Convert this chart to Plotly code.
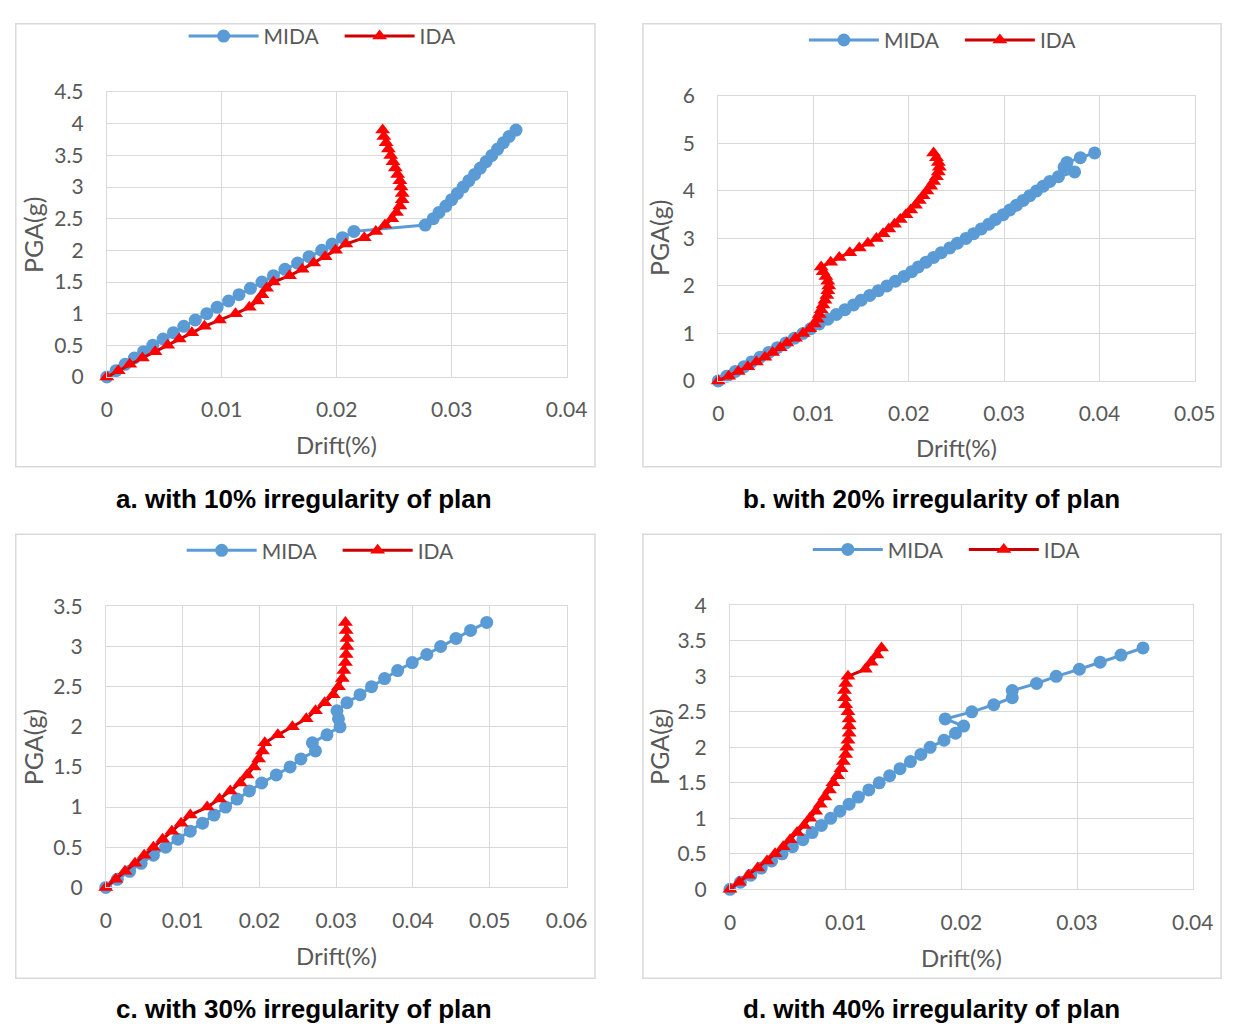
import plotly.graph_objects as go

W, H = 1247, 1035

# ---------------- data (PGA in g, drift) ----------------
pga_a_mida = [0.0, 0.1, 0.2, 0.3, 0.4, 0.5, 0.6, 0.7, 0.8, 0.9, 1.0, 1.1, 1.2, 1.3, 1.4, 1.5, 1.6, 1.7, 1.8, 1.9,
              2.0, 2.1, 2.2, 2.3, 2.4, 2.5, 2.6, 2.7, 2.8, 2.9, 3.0, 3.1, 3.2, 3.3, 3.4, 3.5, 3.6, 3.7, 3.8, 3.9]
drift_a_mida = [0.0, 0.0008, 0.0016, 0.0024, 0.0032, 0.0040, 0.0049, 0.0058, 0.0067, 0.0077, 0.0087, 0.0096,
                0.0106, 0.0115, 0.0125, 0.0135, 0.0145, 0.0155, 0.0166, 0.0176, 0.0187, 0.0196, 0.0205, 0.0215,
                0.0277, 0.0284, 0.0289, 0.0295, 0.0300, 0.0305, 0.0310, 0.0315, 0.0320, 0.0325, 0.0330, 0.0335,
                0.0340, 0.0345, 0.0350, 0.0356]
pga_a_ida = [0.0, 0.1, 0.2, 0.3, 0.4, 0.5, 0.6, 0.7, 0.8, 0.9, 1.0, 1.1, 1.2, 1.3, 1.4, 1.5, 1.6, 1.7, 1.8, 1.9,
             2.0, 2.1, 2.2, 2.3, 2.4, 2.5, 2.6, 2.7, 2.8, 2.9, 3.0, 3.1, 3.2, 3.3, 3.4, 3.5, 3.6, 3.7, 3.8, 3.9]
drift_a_ida = [0.0, 0.0010, 0.0020, 0.0031, 0.0042, 0.0053, 0.0063, 0.0074, 0.0085, 0.0098, 0.0112, 0.0124,
               0.0131, 0.0135, 0.0139, 0.0145, 0.0159, 0.0170, 0.0180, 0.0190, 0.0199, 0.0208, 0.0224, 0.0234,
               0.0242, 0.0248, 0.0252, 0.0255, 0.0257, 0.0257, 0.0256, 0.0255, 0.0253, 0.0251, 0.0249, 0.0247,
               0.0245, 0.0243, 0.0241, 0.0240]

pga_b_mida = [0.0, 0.1, 0.2, 0.3, 0.4, 0.5, 0.6, 0.7, 0.8, 0.9, 1.0, 1.1, 1.2, 1.3, 1.4, 1.5, 1.6, 1.7, 1.8, 1.9,
              2.0, 2.1, 2.2, 2.3, 2.4, 2.5, 2.6, 2.7, 2.8, 2.9, 3.0, 3.1, 3.2, 3.3, 3.4, 3.5, 3.6, 3.7, 3.8, 3.9,
              4.0, 4.1, 4.2, 4.3, 4.4, 4.5, 4.6, 4.7, 4.8]
drift_b_mida = [0.0, 0.0009, 0.0018, 0.0027, 0.0035, 0.0044, 0.0053, 0.0062, 0.0071, 0.0080, 0.0089, 0.0097,
                0.0106, 0.0115, 0.0124, 0.0133, 0.0142, 0.0150, 0.0159, 0.0168, 0.0177, 0.0186, 0.0195, 0.0203,
                0.0210, 0.0218, 0.0226, 0.0234, 0.0243, 0.0251, 0.0260, 0.0268, 0.0276, 0.0284, 0.0291, 0.0299,
                0.0306, 0.0313, 0.0320, 0.0327, 0.0334, 0.0341, 0.0348, 0.0357, 0.0374, 0.0363, 0.0366, 0.0380,
                0.0395]
pga_b_ida = [0.0, 0.1, 0.2, 0.3, 0.4, 0.5, 0.6, 0.7, 0.8, 0.9, 1.0, 1.1, 1.2, 1.3, 1.4, 1.5, 1.6, 1.7, 1.8, 1.9,
             2.0, 2.1, 2.2, 2.3, 2.4, 2.5, 2.6, 2.7, 2.8, 2.9, 3.0, 3.1, 3.2, 3.3, 3.4, 3.5, 3.6, 3.7, 3.8, 3.9,
             4.0, 4.1, 4.2, 4.3, 4.4, 4.5, 4.6, 4.7, 4.8]
drift_b_ida = [0.0, 0.0011, 0.0021, 0.0031, 0.0040, 0.0049, 0.0057, 0.0065, 0.0072, 0.0081, 0.0089, 0.0096,
               0.0101, 0.0104, 0.0106, 0.0108, 0.0110, 0.0112, 0.0114, 0.0115, 0.0116, 0.0115, 0.0113, 0.0110,
               0.0108, 0.0118, 0.0127, 0.0138, 0.0148, 0.0157, 0.0166, 0.0173, 0.0179, 0.0185, 0.0191, 0.0197,
               0.0202, 0.0207, 0.0211, 0.0215, 0.0219, 0.0223, 0.0226, 0.0229, 0.0231, 0.0232, 0.0231, 0.0229,
               0.0226]

pga_c_mida = [0.0, 0.1, 0.2, 0.3, 0.4, 0.5, 0.6, 0.7, 0.8, 0.9, 1.0, 1.1, 1.2, 1.3, 1.4, 1.5, 1.6, 1.7, 1.8, 1.9,
              2.0, 2.1, 2.2, 2.3, 2.4, 2.5, 2.6, 2.7, 2.8, 2.9, 3.0, 3.1, 3.2, 3.3]
drift_c_mida = [0.0, 0.0015, 0.0031, 0.0046, 0.0062, 0.0078, 0.0094, 0.0110, 0.0126, 0.0141, 0.0156, 0.0171,
                0.0187, 0.0203, 0.0222, 0.0240, 0.0254, 0.0273, 0.0269, 0.0288, 0.0305, 0.0303, 0.0301, 0.0314,
                0.0331, 0.0346, 0.0363, 0.0380, 0.0399, 0.0418, 0.0436, 0.0456, 0.0475, 0.0496]
pga_c_ida = [0.0, 0.1, 0.2, 0.3, 0.4, 0.5, 0.6, 0.7, 0.8, 0.9, 1.0, 1.1, 1.2, 1.3, 1.4, 1.5, 1.6, 1.7, 1.8, 1.9,
             2.0, 2.1, 2.2, 2.3, 2.4, 2.5, 2.6, 2.7, 2.8, 2.9, 3.0, 3.1, 3.2, 3.3]
drift_c_ida = [0.0, 0.0013, 0.0025, 0.0038, 0.0050, 0.0062, 0.0074, 0.0086, 0.0098, 0.0110, 0.0132, 0.0148,
               0.0162, 0.0175, 0.0184, 0.0193, 0.0199, 0.0204, 0.0207, 0.0224, 0.0243, 0.0261, 0.0273, 0.0285,
               0.0296, 0.0303, 0.0308, 0.0310, 0.0312, 0.0313, 0.0314, 0.0314, 0.0313, 0.0312]

pga_d_mida = [0.0, 0.1, 0.2, 0.3, 0.4, 0.5, 0.6, 0.7, 0.8, 0.9, 1.0, 1.1, 1.2, 1.3, 1.4, 1.5, 1.6, 1.7, 1.8, 1.9,
              2.0, 2.1, 2.2, 2.3, 2.4, 2.5, 2.6, 2.7, 2.8, 2.9, 3.0, 3.1, 3.2, 3.3, 3.4]
drift_d_mida = [0.0, 0.0009, 0.0018, 0.0027, 0.0036, 0.0045, 0.0054, 0.0063, 0.0071, 0.0079, 0.0087, 0.0095,
                0.0103, 0.0111, 0.0120, 0.0129, 0.0138, 0.0147, 0.0156, 0.0165, 0.0173, 0.0185, 0.0195, 0.0202,
                0.0186, 0.0209, 0.0228, 0.0244, 0.0244, 0.0265, 0.0282, 0.0302, 0.0320, 0.0338, 0.0357]
pga_d_ida = [0.0, 0.1, 0.2, 0.3, 0.4, 0.5, 0.6, 0.7, 0.8, 0.9, 1.0, 1.1, 1.2, 1.3, 1.4, 1.5, 1.6, 1.7, 1.8, 1.9,
             2.0, 2.1, 2.2, 2.3, 2.4, 2.5, 2.6, 2.7, 2.8, 2.9, 3.0, 3.1, 3.2, 3.3, 3.4]
drift_d_ida = [0.0, 0.0008, 0.0016, 0.0024, 0.0032, 0.0039, 0.0046, 0.0052, 0.0058, 0.0064, 0.0069, 0.0074,
               0.0078, 0.0082, 0.0086, 0.0089, 0.0093, 0.0096, 0.0098, 0.0100, 0.0101, 0.0102, 0.0103, 0.0103,
               0.0103, 0.0102, 0.0100, 0.0099, 0.0099, 0.0100, 0.0102, 0.0117, 0.0122, 0.0127, 0.0131]

panel_titles = ["a. with 10% irregularity of plan", "b. with 20% irregularity of plan",
                "c. with 30% irregularity of plan", "d. with 40% irregularity of plan"]
x_ranges = [[0, 0.04], [0, 0.05], [0, 0.06], [0, 0.04]]
y_ranges = [[0, 4.5], [0, 6], [0, 3.5], [0, 4]]
y_dticks = [0.5, 1, 0.5, 0.5]
x_dtick = 0.01

# ---------------- layout geometry (pixels) ----------------
plot_px = [(103, 573, 80, 372), (728, 1215, 84, 376), (102, 573, 607, 895), (740, 1213, 606, 897)]
boxes_px = [(10, 602, 10, 464), (651, 1242, 10, 464), (10, 602, 533, 988), (651, 1242, 533, 988)]
legend_px = [(341, 23), (975, 27), (339, 550), (979, 549)]
ytitle_px = [27, 668, 27, 668]
xtitle_y_px = [441, 444, 965, 967]
ptitle_px = [(305, 497), (946, 497), (305, 1020), (946, 1020)]

BLUE = "#5B9BD5"
RED = "#FF0000"
REDLINE = "#CC0000"
GRID = "#D9D9D9"
TXT = "#595959"
FONT = "Lato"

series = [
    (drift_a_mida, pga_a_mida, drift_a_ida, pga_a_ida),
    (drift_b_mida, pga_b_mida, drift_b_ida, pga_b_ida),
    (drift_c_mida, pga_c_mida, drift_c_ida, pga_c_ida),
    (drift_d_mida, pga_d_mida, drift_d_ida, pga_d_ida),
]

fig = go.Figure()
layout = dict(width=W, height=H, margin=dict(l=0, r=0, t=0, b=0), autosize=False,
              paper_bgcolor="white", plot_bgcolor="white", showlegend=True)
annotations = []
shapes = []


def px_x(v):
    return v / W


def px_y(v):
    return 1 - v / H


for i in range(4):
    n = "" if i == 0 else str(i + 1)
    xa, ya = "x" + n, "y" + n
    leg = "legend" if i == 0 else "legend" + str(i + 1)
    dx_m, py_m, dx_i, py_i = series[i]
    fig.add_trace(go.Scatter(x=dx_m, y=py_m, mode="lines+markers", name="MIDA",
                             xaxis=xa, yaxis=ya, legend=leg, cliponaxis=False,
                             line=dict(color=BLUE, width=3),
                             marker=dict(symbol="circle", size=13, color=BLUE)))
    fig.add_trace(go.Scatter(x=dx_i, y=py_i, mode="lines+markers", name="IDA",
                             xaxis=xa, yaxis=ya, legend=leg, cliponaxis=False,
                             line=dict(color=REDLINE, width=3),
                             marker=dict(symbol="triangle-up", size=13, color=RED)))
    l, r, t, b = plot_px[i]
    layout["xaxis" + n] = dict(domain=[px_x(l), px_x(r)], range=x_ranges[i], dtick=x_dtick, anchor=ya,
                               showgrid=True, gridcolor=GRID, gridwidth=1, zeroline=False,
                               showline=True, linecolor=GRID, linewidth=1, mirror=True,
                               ticks="", ticklabelstandoff=14, fixedrange=True,
                               tickfont=dict(family=FONT, size=21, color=TXT))
    layout["yaxis" + n] = dict(domain=[px_y(b), px_y(t)], range=y_ranges[i], dtick=y_dticks[i], anchor=xa,
                               showgrid=True, gridcolor=GRID, gridwidth=1, zeroline=False,
                               showline=True, linecolor=GRID, linewidth=1, mirror=True,
                               ticks="", ticklabelstandoff=18, fixedrange=True,
                               tickfont=dict(family=FONT, size=21, color=TXT))
    lx, ly = legend_px[i]
    layout[leg] = dict(orientation="h", x=px_x(lx), y=px_y(ly), xanchor="center", yanchor="middle",
                       bgcolor="rgba(0,0,0,0)", font=dict(family=FONT, size=21, color=TXT),
                       itemwidth=70, entrywidth=71, entrywidthmode="pixels", tracegroupgap=0)
    bl, br, bt, bb = boxes_px[i]
    shapes.append(dict(type="rect", xref="paper", yref="paper", x0=px_x(bl), x1=px_x(br),
                       y0=px_y(bb), y1=px_y(bt), line=dict(color=GRID, width=1.5), layer="below"))
    annotations.append(dict(text="PGA(g)", xref="paper", yref="paper", x=px_x(ytitle_px[i]),
                            y=px_y((t + b) / 2), textangle=-90, showarrow=False,
                            xanchor="center", yanchor="middle",
                            font=dict(family=FONT, size=25, color=TXT)))
    annotations.append(dict(text="Drift(%)", xref="paper", yref="paper", x=px_x((l + r) / 2),
                            y=px_y(xtitle_y_px[i]), showarrow=False, xanchor="center", yanchor="middle",
                            font=dict(family=FONT, size=24, color=TXT)))
    tx, ty = ptitle_px[i]
    annotations.append(dict(text="<b>" + panel_titles[i] + "</b>", xref="paper", yref="paper",
                            x=px_x(tx), y=px_y(ty), showarrow=False, xanchor="center", yanchor="middle",
                            font=dict(family="Liberation Sans", size=26, color="#000000")))

layout["annotations"] = annotations
layout["shapes"] = shapes
fig.update_layout(**layout)
fig.write_html("out.html", config={"responsive": False, "displayModeBar": False})
